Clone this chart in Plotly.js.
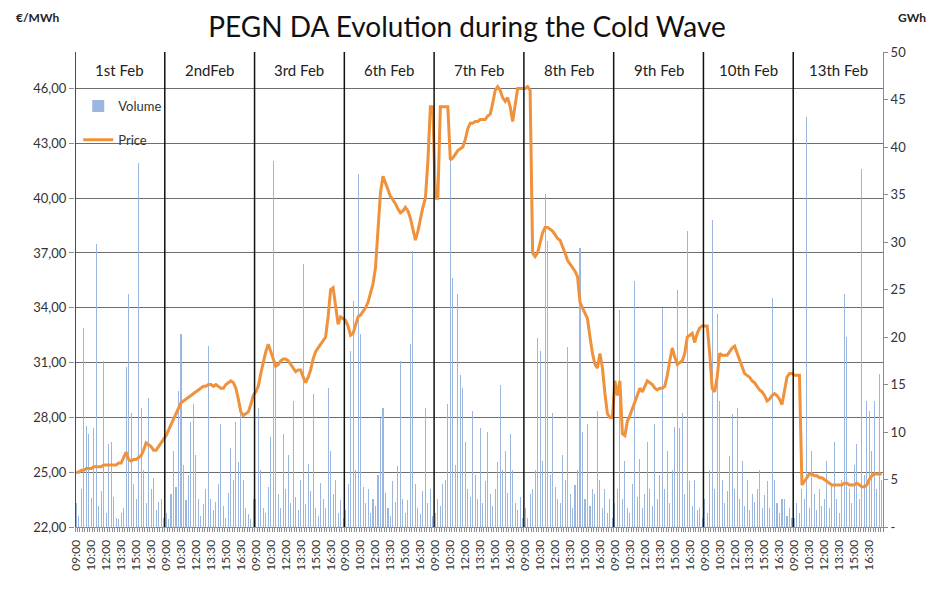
<!DOCTYPE html>
<html>
<head>
<meta charset="utf-8">
<script src="https://cdn.plot.ly/plotly-3.0.1.min.js"></script>
<style>
  html, body { margin: 0; padding: 0; background: #ffffff; }
  #chart { width: 934px; height: 596px; }
</style>
</head>
<body>
<div id="chart"></div>
<script>
// ---- Data ----
const dayLabels = ["1st Feb", "2ndFeb", "3rd Feb", "6th Feb", "7th Feb", "8th Feb", "9th Feb", "10th Feb", "13th Feb"];
const slotsPerDay = 36;            // 15-minute slots, 09:00 - 17:45
const labelEvery = 6;              // one label every 1.5 h
const timeLabels = ["09:00", "10:30", "12:00", "13:30", "15:00", "16:30"];

// Price (EUR/MWh), one value per 15-minute slot
const price01Feb = [25.0,25.0,25.1,25.1,25.2,25.2,25.2,25.3,25.3,25.3,25.3,25.4,25.4,25.4,25.4,25.4,25.4,25.5,25.5,25.8,26.1,25.7,25.6,25.7,25.7,25.8,25.9,26.2,26.6,26.5,26.4,26.2,26.2,26.4,26.6,26.8];
const price02Feb = [27.0,27.3,27.6,27.9,28.2,28.5,28.8,28.9,29.0,29.1,29.2,29.3,29.4,29.5,29.6,29.7,29.7,29.8,29.8,29.7,29.8,29.7,29.6,29.6,29.8,29.9,30.0,29.9,29.6,29.0,28.3,28.1,28.2,28.3,28.7,29.2];
const price03Feb = [29.4,29.7,30.4,31.0,31.6,32.0,31.6,31.1,30.8,30.9,31.1,31.2,31.2,31.1,30.9,30.7,30.5,30.6,30.6,30.2,29.9,30.2,30.6,31.2,31.6,31.8,32.0,32.2,32.4,33.5,35.0,35.1,34.2,33.1,33.5,33.4];
const price06Feb = [33.3,33.0,32.5,32.6,33.1,33.5,33.6,33.8,34.0,34.3,34.8,35.3,36.2,38.0,40.3,41.2,40.8,40.4,40.1,39.9,39.7,39.4,39.2,39.3,39.5,39.3,38.9,38.3,37.7,38.2,38.9,39.5,40.0,42.0,45.0,45.0];
const price07Feb = [40.0,40.0,45.0,45.0,45.0,45.0,42.1,42.2,42.4,42.6,42.7,42.8,43.2,43.8,44.1,44.1,44.2,44.2,44.3,44.3,44.3,44.5,44.6,45.2,45.9,46.1,45.9,45.5,45.3,45.5,45.0,44.2,45.0,46.0,46.0,46.0];
const price08Feb = [46.0,46.1,45.9,37.0,36.8,37.0,37.6,38.1,38.4,38.4,38.3,38.2,38.0,37.8,37.7,37.4,37.0,36.6,36.4,36.2,36.0,35.7,34.3,34.0,33.7,33.4,32.4,31.5,30.9,30.7,31.5,30.7,29.3,28.2,28.0,28.0];
const price09Feb = [30.0,29.2,30.0,27.1,27.0,27.8,28.1,28.5,28.9,29.3,29.6,29.4,29.7,30.0,29.9,29.8,29.6,29.5,29.6,29.6,29.7,30.3,31.1,31.8,31.3,30.9,31.0,31.1,31.5,32.4,32.5,32.6,32.1,32.6,32.9,33.0];
const price10Feb = [33.0,33.0,31.5,29.6,29.4,30.2,31.5,31.4,31.4,31.4,31.6,31.8,31.9,31.5,31.1,30.8,30.4,30.3,30.2,30.0,29.9,29.7,29.5,29.4,29.2,28.9,29.0,29.2,29.3,29.2,29.0,28.7,29.4,30.2,30.4,30.4];
const price13Feb = [30.3,30.3,30.3,24.3,24.5,24.7,24.9,24.9,24.8,24.8,24.7,24.7,24.6,24.5,24.4,24.3,24.3,24.3,24.3,24.3,24.4,24.4,24.3,24.3,24.3,24.4,24.3,24.2,24.2,24.3,24.6,24.8,24.9,24.9,24.9,24.9];

// Volume (GWh), one value per 15-minute slot
const vol01Feb = [2.5,1.2,4.0,21.0,10.6,9.8,3.1,10.4,29.8,2.2,3.8,17.5,1.5,8.7,9.0,3.2,1.0,0.8,1.5,2.0,16.8,24.5,12.0,4.5,3.0,38.3,12.5,6.0,2.5,13.6,4.0,5.2,1.8,2.6,3.0,1.0];
const vol02Feb = [1.5,0.8,3.5,8.0,4.2,14.3,20.3,6.5,2.8,5.5,11.1,12.9,7.6,3.0,1.2,2.4,4.0,19.1,3.0,1.8,2.6,4.5,10.8,2.2,1.0,3.6,8.3,5.0,11.1,6.8,11.9,5.0,2.0,1.4,0.8,3.0];
const vol03Feb = [3.0,12.5,6.0,2.0,1.5,4.2,9.5,38.5,16.8,3.5,2.0,9.8,4.0,7.6,2.5,13.3,3.2,1.8,5.0,27.7,2.4,6.6,3.8,14.0,2.0,1.2,4.6,3.0,2.0,14.6,8.0,3.5,5.0,1.5,2.8,1.0];
const vol06Feb = [1.8,4.5,18.5,23.8,6.0,37.2,20.3,4.2,2.5,4.0,1.5,3.0,2.2,5.5,11.5,12.5,3.6,2.0,1.2,4.8,2.6,6.4,17.5,3.0,1.5,2.8,19.3,29.1,4.5,2.0,1.4,3.8,12.5,2.5,4.0,1.2];
const vol07Feb = [1.5,3.0,2.2,4.5,5.0,12.9,40.4,26.2,6.5,24.5,16.0,14.6,9.0,4.0,3.2,12.2,5.5,3.0,10.4,2.5,4.8,10.0,3.5,2.2,4.0,6.8,15.0,6.0,8.0,3.6,9.8,6.0,2.5,1.8,3.2,1.0];
const vol08Feb = [2.0,1.0,3.5,4.0,6.0,19.9,18.5,7.0,35.1,30.1,5.5,12.0,4.2,3.0,2.5,7.6,5.0,18.9,3.5,2.0,4.4,6.0,29.4,10.0,3.0,10.8,2.2,4.0,3.5,12.2,5.0,2.0,4.0,1.5,3.0,1.0];
const vol09Feb = [2.5,4.0,22.8,3.0,7.0,2.0,1.5,4.5,25.9,3.2,7.2,2.0,3.5,9.0,4.0,2.2,10.8,3.0,5.5,23.1,4.0,8.0,2.5,6.0,10.5,24.9,10.4,12.0,3.5,31.2,4.8,2.2,5.0,1.8,2.0,1.0];
const vol10Feb = [3.0,1.5,6.0,32.3,4.0,22.4,13.3,5.0,2.5,3.8,7.5,11.9,4.0,12.5,3.0,7.0,2.2,5.0,1.8,3.5,2.6,4.0,6.0,2.0,3.4,4.8,2.0,24.1,5.0,2.5,1.5,3.0,3.0,1.2,2.0,1.0];
const vol13Feb = [1.0,2.5,1.5,4.0,3.0,43.2,2.0,8.0,3.5,1.8,4.0,2.2,3.0,6.9,2.0,4.5,9.0,3.0,1.5,5.0,24.5,20.0,4.0,2.5,6.5,8.7,3.0,37.7,5.5,13.3,12.2,8.0,13.3,4.0,16.1,5.0];

const priceTicks = [22, 25, 28, 31, 34, 37, 40, 43, 46];
const volumeTicks = [0, 5, 10, 15, 20, 25, 30, 35, 40, 45, 50];

// ---- Build series ----
const priceDays = [price01Feb, price02Feb, price03Feb, price06Feb, price07Feb, price08Feb, price09Feb, price10Feb, price13Feb];
const volDays = [vol01Feb, vol02Feb, vol03Feb, vol06Feb, vol07Feb, vol08Feb, vol09Feb, vol10Feb, vol13Feb];

const xs = [], prices = [], vols = [];
priceDays.forEach((arr, d) => {
  arr.forEach((v, s) => {
    xs.push(d * slotsPerDay + s);
    prices.push(v);
    vols.push(volDays[d][s]);
  });
});

const nSlots = dayLabels.length * slotsPerDay;
const tickVals = [], tickText = [];
dayLabels.forEach((_, d) => {
  timeLabels.forEach((t, k) => {
    tickVals.push(d * slotsPerDay + k * labelEvery);
    tickText.push(t);
  });
});

const FONT = "Lato, 'Open Sans', sans-serif";

const traces = [
  {
    type: "bar", name: "Volume", x: xs, y: vols, yaxis: "y",
    width: 0.42, marker: { color: "#9bb7e0", line: { width: 0 } },
    legendgroup: "vol", hoverinfo: "skip"
  },
  {
    type: "scatter", mode: "lines", name: "Price", x: xs, y: prices, yaxis: "y2",
    line: { color: "#f0913b", width: 3 },
    legendgroup: "price", hoverinfo: "skip"
  }
];

const shapes = dayLabels.map((_, d) => ({
  type: "line", xref: "x", yref: "paper",
  x0: d * slotsPerDay - 0.5, x1: d * slotsPerDay - 0.5, y0: 0, y1: 1,
  line: { color: "#111111", width: 1.5 }, layer: "above"
}));

const annotations = dayLabels.map((lab, d) => ({
  text: lab, xref: "x", yref: "paper",
  x: d * slotsPerDay + (slotsPerDay - 1) / 2, y: 0.962,
  showarrow: false, xanchor: "center", yanchor: "middle",
  font: { family: FONT, size: 15, color: "#222222" }
}));
annotations.push({
  text: "<b>€/MWh</b>", xref: "paper", yref: "paper", x: -0.046, y: 1.072,
  showarrow: false, xanchor: "center", yanchor: "middle",
  font: { family: FONT, size: 12, color: "#222222" }
});
annotations.push({
  text: "<b>GWh</b>", xref: "paper", yref: "paper", x: 1.036, y: 1.072,
  showarrow: false, xanchor: "center", yanchor: "middle",
  font: { family: FONT, size: 12, color: "#222222" }
});

const layout = {
  width: 934, height: 596,
  margin: { l: 75, r: 51, t: 52, b: 69 },
  paper_bgcolor: "#ffffff", plot_bgcolor: "#ffffff",
  font: { family: FONT, size: 13, color: "#333333" },
  title: {
    text: "PEGN DA Evolution during the Cold Wave",
    xref: "container", x: 0.5, xanchor: "center",
    yref: "container", y: 0.954, yanchor: "middle",
    font: { family: FONT, size: 28, color: "#111111" }
  },
  showlegend: true,
  legend: {
    x: 0.004, y: 0.918, xanchor: "left", yanchor: "top",
    bgcolor: "rgba(0,0,0,0)", traceorder: "grouped", tracegroupgap: 14,
    font: { family: FONT, size: 13, color: "#333333" }
  },
  bargap: 0,
  xaxis: {
    range: [-0.5, nSlots - 0.5], tickmode: "array", tickvals: tickVals, ticktext: tickText,
    tickangle: -90, ticks: "outside", ticklen: 7, tickcolor: "rgba(0,0,0,0)",
    tickfont: { family: FONT, size: 12, color: "#333333" },
    showgrid: false, zeroline: false, showline: true, linecolor: "#8c8c8c", linewidth: 1,
    minor: { tickmode: "linear", tick0: -0.5, dtick: 1, ticks: "outside", ticklen: 4, tickcolor: "#8c8c8c", showgrid: false },
    fixedrange: true
  },
  yaxis: {
    side: "right", range: [0, 50], tickmode: "array", tickvals: volumeTicks,
    ticktext: volumeTicks.map(v => v === 0 ? "-" : String(v)),
    ticks: "outside", ticklen: 4, tickcolor: "#8c8c8c",
    showgrid: false, zeroline: false, showline: true, linecolor: "#8c8c8c", linewidth: 1,
    tickfont: { family: FONT, size: 13, color: "#333333" }
  },
  yaxis2: {
    overlaying: "y", side: "left", range: [22, 48], tickmode: "array", tickvals: priceTicks,
    ticktext: priceTicks.map(v => v.toFixed(2).replace(".", ",")),
    ticks: "outside", ticklen: 5, tickcolor: "#8c8c8c",
    showgrid: true, gridcolor: "#6e6e6e", gridwidth: 1, zeroline: false, showline: false,
    tickfont: { family: FONT, size: 13, color: "#333333" }
  },
  shapes: shapes,
  annotations: annotations
};

Plotly.newPlot("chart", traces, layout, { displayModeBar: false, staticPlot: true });
</script>
</body>
</html>
